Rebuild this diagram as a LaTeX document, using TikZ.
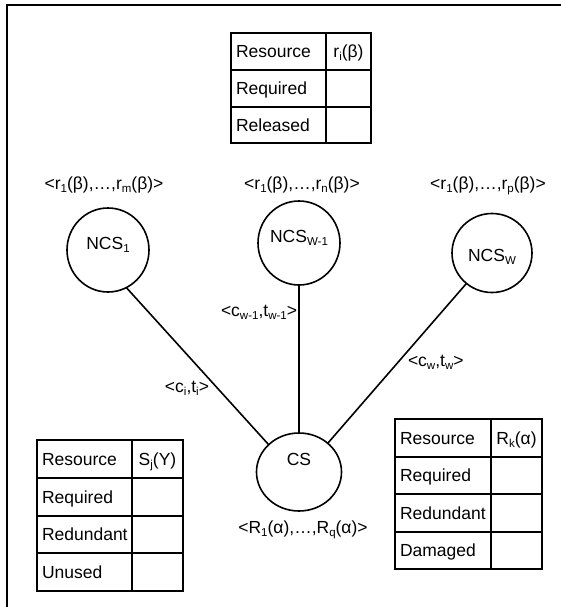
\documentclass[tikz,border=0pt]{standalone}
\usepackage{fontspec}
\setmainfont{Liberation Sans}
\usetikzlibrary{shapes.geometric}

% small, slightly lowered index text
\newcommand{\idx}[1]{\raisebox{-0.18em}{\fontsize{11.5}{12}\selectfont #1}}

\begin{document}
\begin{tikzpicture}[x=1pt,y=-1pt,
  every node/.style={font=\fontsize{17.5}{20}\selectfont, inner sep=0pt, outer sep=0pt},
  grid/.style={line width=1.6pt},
  site/.style={draw, ellipse, line width=1.6pt, minimum width=82pt, minimum height=84pt},
  link/.style={line width=1.6pt},
  cell/.style={anchor=base west},
  head/.style={anchor=base}]

\useasboundingbox (0,0) rectangle (561,607);
% frame (open to the right and bottom)
\draw[line width=2.4pt] (7,610) -- (7,5) -- (564,5);

% --- table of the non-critical resources r_i(beta) ---
\draw[grid] (231,33) rectangle (371,143);
\draw[grid] (326,33) -- (326,143);
\draw[grid] (231,70) -- (371,70) (231,107) -- (371,107);
\node[cell] (ta1) at (236,57.7) {Resource};
\node[head] (ta2) at (348.5,57.7) {r\idx{i}(β)};
\node[cell] (ta3) at (236,94.7) {Required};
\node[cell] (ta4) at (236,131.2) {Released};

% --- table of S_j(Y) ---
\draw[grid] (37,440) rectangle (183,591);
\draw[grid] (132,440) -- (132,591);
\draw[grid] (37,478) -- (183,478) (37,516) -- (183,516) (37,553) -- (183,553);
\node[cell] (tb1) at (42,465.2) {Resource};
\node[head] (tb2) at (157.5,465.2) {S\idx{j}(Y)};
\node[cell] (tb3) at (42,503.2) {Required};
\node[cell] (tb4) at (42,540.7) {Redundant};
\node[cell] (tb5) at (42,578.2) {Unused};

% --- table of R_k(alpha) ---
\draw[grid] (395,419) rectangle (542,569);
\draw[grid] (491,419) -- (491,569);
\draw[grid] (395,457) -- (542,457) (395,494) -- (542,494) (395,532) -- (542,532);
\node[cell] (tc1) at (400,444.2) {Resource};
\node[head] (tc2) at (516.5,444.2) {R\idx{k}(α)};
\node[cell] (tc3) at (400,481.7) {Required};
\node[cell] (tc4) at (400,519.2) {Redundant};
\node[cell] (tc5) at (400,556.7) {Damaged};

% --- resource vectors above the NCS nodes ---
\node[head] (v1) at (104,189) {<r\idx{1}(β),…,r\idx{m}(β)>};
\node[head] (v2) at (302,189) {<r\idx{1}(β),…,r\idx{n}(β)>};
\node[head] (v3) at (488,189) {<r\idx{1}(β),…,r\idx{p}(β)>};

% --- sites ---
\node[site] (n1) at (108,250) {};
\node[site] (n2) at (299,243) {};
\node[site, minimum width=80pt, minimum height=79pt] (n3) at (492,253) {};
\node[site, minimum width=85pt, minimum height=78pt] (cs) at (299,472) {};

\node (n1t) at (108,245) {NCS\idx{1}};
\node (n2t) at (299,238) {NCS\idx{W-1}};
\node (n3t) at (492,257) {NCS\idx{W}};
\node (cst) at (299,459) {CS};

% --- links to the central site ---
\draw[link] (n1.-64) -- (cs.138);
\draw[link] (n2.south) -- (cs.north);
\draw[link] (n3.-130) -- (cs.45);

% --- link labels ---
\node[anchor=east] (l1) at (209,388) {<c\idx{i},t\idx{i}>};
\node[anchor=east] (l2) at (297,312) {<c\idx{w-1},t\idx{w-1}>};
\node[anchor=west] (l3) at (408,362) {<c\idx{w},t\idx{w}>};
\node[head] (vc) at (303,533) {<R\idx{1}(α),…,R\idx{q}(α)>};

\end{tikzpicture}
\end{document}
